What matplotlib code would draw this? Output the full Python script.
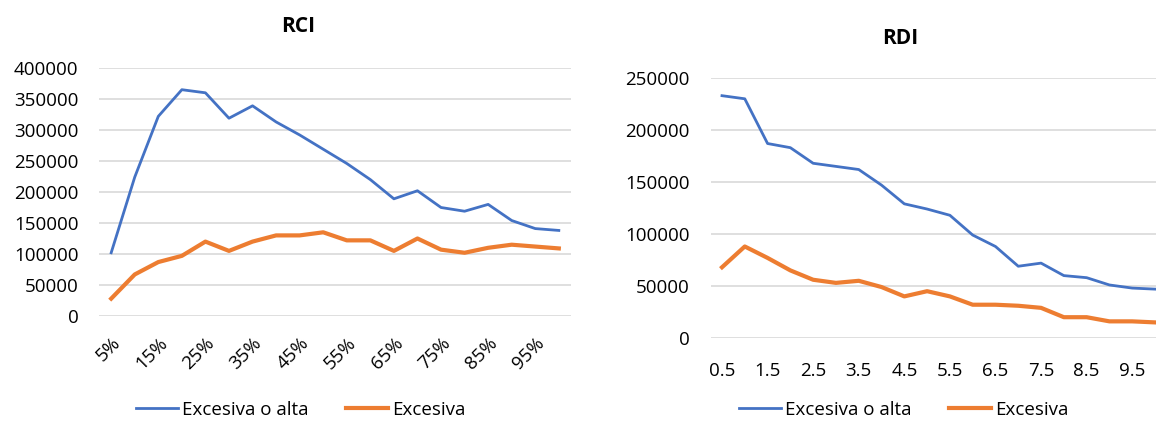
import matplotlib
matplotlib.use("Agg")
import matplotlib.pyplot as plt

# Series values per percentile / threshold
rci_labels = ["5%", "10%", "15%", "20%", "25%", "30%", "35%", "40%", "45%", "50%",
              "55%", "60%", "65%", "70%", "75%", "80%", "85%", "90%", "95%", "100%"]
rci_alta = [102000, 224000, 322000, 365000, 360000, 319000, 339000, 313000, 292000, 269000,
            246000, 220000, 189000, 202000, 175000, 169000, 180000, 154000, 141000, 138000]
rci_excesiva = [28000, 67000, 87000, 97000, 120000, 105000, 120000, 130000, 130000, 135000,
                122000, 122000, 105000, 125000, 107000, 102000, 110000, 115000, 112000, 109000]

rdi_labels = ["0.5", "1", "1.5", "2", "2.5", "3", "3.5", "4", "4.5", "5",
              "5.5", "6", "6.5", "7", "7.5", "8", "8.5", "9", "9.5", "10"]
rdi_alta = [233000, 230000, 187000, 183000, 168000, 165000, 162000, 147000, 129000, 124000,
            118000, 99000, 88000, 69000, 72000, 60000, 58000, 51000, 48000, 47000]
rdi_excesiva = [68000, 88000, 77000, 65000, 56000, 53000, 55000, 49000, 40000, 45000,
                40000, 32000, 32000, 31000, 29000, 20000, 20000, 16000, 16000, 15000]

BLUE = "#4472C4"
ORANGE = "#ED7D31"
GRID = "#D9D9D9"
FONT = ["Open Sans", "DejaVu Sans"]
FS = 13.5

W, H = 1156, 424
plt.rcParams["font.family"] = FONT
fig = plt.figure(figsize=(W / 100, H / 100), dpi=100)


def px_axes(x0, y_top, x1, y_bot):
    return fig.add_axes([x0 / W, 1 - y_bot / H, (x1 - x0) / W, (y_bot - y_top) / H])


def style_axes(ax, labels, ymax, step, rotate):
    ax.set_xlim(-0.5, len(labels) - 0.5)
    ax.set_ylim(0, ymax)
    ax.set_yticks(range(0, ymax + 1, step))
    ax.set_yticklabels([str(v) for v in range(0, ymax + 1, step)], fontsize=FS)
    ax.yaxis.grid(True, color=GRID, linewidth=1.2)
    ax.set_axisbelow(True)
    for s in ax.spines.values():
        s.set_visible(False)
    ax.tick_params(axis="y", length=0, pad=15)
    ax.tick_params(axis="x", length=0)
    idx = list(range(0, len(labels), 2))
    ax.set_xticks(idx)
    if rotate:
        ax.set_xticklabels([labels[i] for i in idx], fontsize=FS, rotation=45,
                           ha="right", va="top", rotation_mode="anchor")
        ax.tick_params(axis="x", pad=13)
    else:
        ax.set_xticklabels([labels[i] for i in idx], fontsize=FS)
        ax.tick_params(axis="x", pad=17)


def add_legend(ax, cx):
    ax.legend(loc="center", bbox_to_anchor=(cx / W, 1 - 410 / H), bbox_transform=fig.transFigure,
              ncol=2, frameon=False, fontsize=FS, handlelength=2.2, columnspacing=2.0,
              handletextpad=0.25)


x = list(range(20))

# RCI panel
ax1 = px_axes(99.4, 68, 570.6, 316)
ax1.plot(x, rci_alta, color=BLUE, lw=2.0, label="Excesiva o alta", solid_joinstyle="round")
ax1.plot(x, rci_excesiva, color=ORANGE, lw=3.0, label="Excesiva", solid_joinstyle="round")
style_axes(ax1, rci_labels, 400000, 50000, rotate=True)
fig.text(298 / W, 1 - 27 / H, "RCI", ha="center", va="center", fontsize=15, fontweight="bold")
add_legend(ax1, 301)

# RDI panel
ax2 = px_axes(710.6, 78, 1166.4, 338)
ax2.plot(x, rdi_alta, color=BLUE, lw=2.0, label="Excesiva o alta", solid_joinstyle="round")
ax2.plot(x, rdi_excesiva, color=ORANGE, lw=3.0, label="Excesiva", solid_joinstyle="round")
style_axes(ax2, rdi_labels, 250000, 50000, rotate=False)
fig.text(900 / W, 1 - 38 / H, "RDI", ha="center", va="center", fontsize=15, fontweight="bold")
add_legend(ax2, 904)

fig.savefig("out.png", dpi=100)
